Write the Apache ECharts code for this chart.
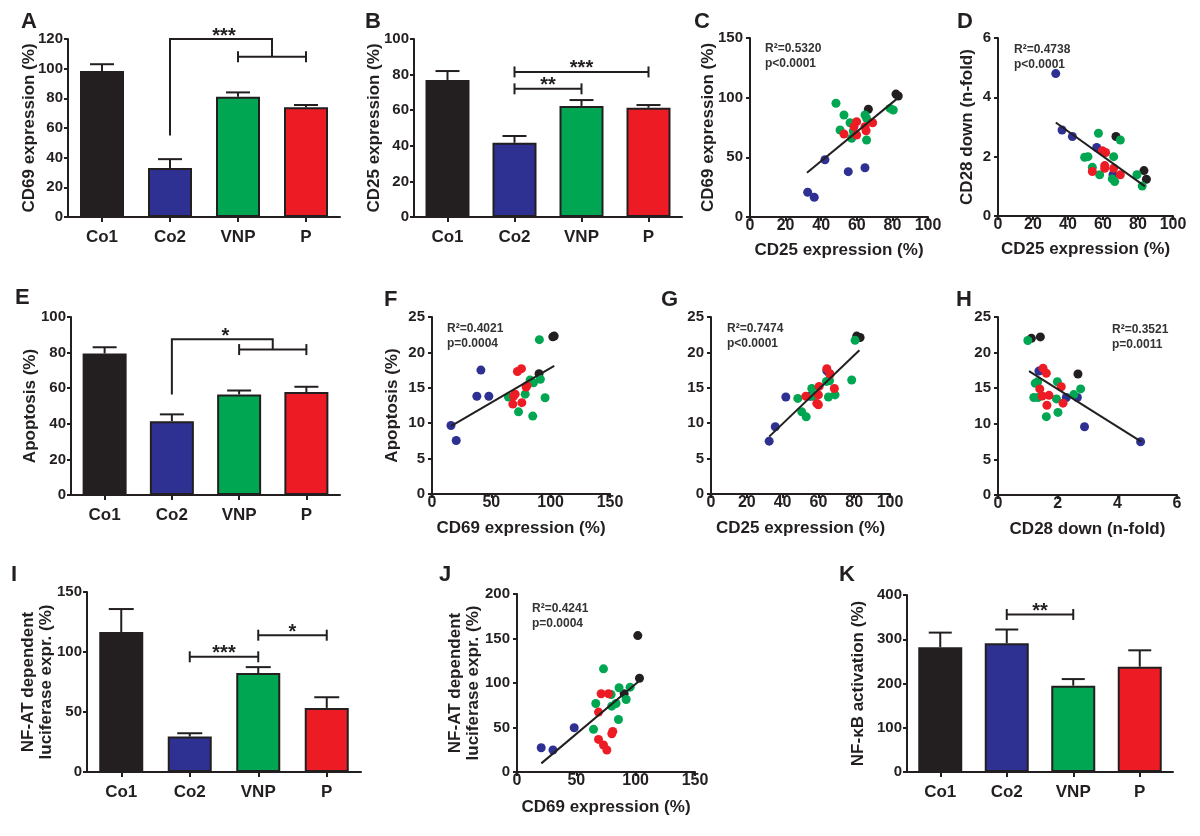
<!DOCTYPE html>
<html><head><meta charset="utf-8">
<script src="https://cdn.jsdelivr.net/npm/echarts@6/dist/echarts.min.js"></script>
<style>html,body{margin:0;padding:0;background:#fff}#c{width:1200px;height:836px}</style>
</head><body><div id="c"></div>
<script>
// ---------- DATA ----------
const groups = ['Co1', 'Co2', 'VNP', 'P'];
const groupColors = ['#231f20', '#2e3192', '#00a651', '#ed1c24'];

// bar panels: mean and mean+SEM (upper whisker)
const A_mean = [98.5, 33, 81, 74];
const A_err  = [103, 39, 84, 75.5];
const B_mean = [77, 41.7, 62.4, 61.4];
const B_err  = [82, 45.5, 65.7, 62.9];
const E_mean = [79.5, 41.5, 56.5, 57.8];
const E_err  = [83, 45.3, 58.7, 60.8];
const I_mean = [116.6, 29.5, 82.4, 53.4];
const I_err  = [135.8, 32.3, 87.4, 62.3];
const K_mean = [282, 291, 195, 238];
const K_err  = [315, 322, 210, 275];

// significance brackets (category indices, y in data units)
const A_group = [{from: 1, fromY: 55, topY: 120, to: [2, 3], toY: 108, label: '***'}];
const E_group = [{from: 1, fromY: 56.5, topY: 87.5, to: [2, 3], toY: 81.7, label: '*'}];
const B_sig = [{a: 1, b: 3, y: 81.5, label: '***'}, {a: 1, b: 2, y: 72, label: '**'}];
const I_sig = [{a: 1, b: 2, y: 96, label: '***'}, {a: 2, b: 3, y: 114, label: '*'}];
const K_sig = [{a: 1, b: 2, y: 356, label: '**'}];

// C: CD25 (x) vs CD69 (y)
const C_Co1 = [[66.5, 90.3], [82, 103], [83.3, 101.4]];
const C_Co2 = [[32.4, 20.7], [36.1, 16.5], [42.1, 48], [55.2, 38], [64.6, 41.3]];
const C_VNP = [[48.3, 95.3], [52.8, 85.5], [50.6, 72.9], [56.2, 79], [57.1, 66], [64.6, 85.5], [65.5, 82.7], [65.5, 64.5], [78.7, 91], [80.5, 89.7], [58, 72]];
const C_P   = [[59.9, 79.9], [58.4, 75.7], [52.8, 69.6], [59.9, 68.7], [64.6, 75.7], [65.2, 72.3], [68.9, 79]];
const C_fit = [[32, 37], [82.5, 99]];

// D: CD25 (x) vs CD28 down (y)
const D_Co1 = [[67.4, 2.68], [83.4, 1.53], [84.8, 1.24]];
const D_Co2 = [[33, 4.8], [36.6, 2.9], [42.5, 2.68], [56.4, 2.31], [65.7, 1.39]];
const D_VNP = [[57.4, 2.79], [69.9, 2.56], [66.1, 2.0], [49.5, 1.98], [51.4, 2.0], [53.9, 1.64], [58.1, 1.39], [65.3, 1.25], [66.7, 1.16], [79.4, 1.39], [82.4, 1.01]];
const D_P   = [[59.6, 2.2], [61.5, 2.14], [53.9, 1.5], [61, 1.7], [61, 1.61], [66.1, 1.61], [69.9, 1.39]];
const D_fit = [[33, 3.15], [84, 1.0]];

// F: CD69 (x) vs Apoptosis (y)
const F_Co1 = [[90.2, 17.0], [101.8, 22.2], [103, 22.3]];
const F_Co2 = [[16, 9.67], [20.4, 7.56], [37.8, 13.8], [41.2, 17.5], [47.9, 13.8]];
const F_VNP = [[64.4, 13.7], [72.9, 11.6], [78.5, 14.1], [82.7, 16.1], [84.9, 11.0], [85.5, 15.7], [90.5, 21.8], [91.3, 16.2], [95.3, 13.6]];
const F_P   = [[68.1, 12.7], [68.7, 13.8], [70.1, 14.1], [72, 17.3], [75.4, 17.7], [75.7, 12.9], [79.3, 15.1], [80, 15.3]];
const F_fit = [[16, 9.6], [103, 18.1]];

// G: CD25 (x) vs Apoptosis (y)
const G_Co1 = [[66.3, 17.0], [81.4, 22.3], [83.3, 22.1]];
const G_Co2 = [[32.5, 7.46], [35.9, 9.5], [41.8, 13.7], [55.4, 13.8], [64.7, 17.4]];
const G_VNP = [[48.5, 13.5], [50.7, 11.6], [53.2, 10.9], [56.3, 14.9], [56.9, 13.8], [64.5, 15.9], [66.2, 16], [65.6, 13.7], [69.3, 14], [78.6, 16.1], [80.5, 21.7]];
const G_P   = [[53, 13.8], [59.1, 12.8], [60, 12.6], [60, 14], [60.4, 15.2], [64.7, 17.7], [66.5, 16.9], [68.9, 14.9]];
const G_fit = [[32.5, 8.1], [82.9, 20.3]];

// H: CD28 down (x) vs Apoptosis (y)
const H_Co1 = [[1.12, 22], [1.42, 22.2], [2.68, 17.0]];
const H_Co2 = [[1.37, 17.4], [2.29, 13.7], [2.66, 13.7], [2.9, 9.58], [4.78, 7.48]];
const H_VNP = [[1.0, 21.7], [1.25, 15.7], [1.33, 15.9], [1.2, 13.7], [1.34, 13.7], [1.62, 11.0], [1.99, 15.9], [1.96, 13.5], [2.01, 11.6], [2.54, 14.1], [2.77, 14.9]];
const H_P   = [[1.51, 17.8], [1.62, 17.1], [1.4, 14.9], [1.48, 13.9], [1.71, 14.0], [1.64, 12.6], [2.12, 15.2], [2.18, 12.9]];
const H_fit = [[1.04, 17.4], [4.8, 7.5]];

// J: CD69 (x) vs NF-AT luciferase (y)
const J_Co1 = [[90.3, 87.9], [101.8, 153.3], [103.2, 105.4]];
const J_Co2 = [[20.4, 27.3], [30.3, 24.7], [48.2, 49.7]];
const J_VNP = [[64.5, 47.9], [66.4, 77], [72.9, 115.9], [79.3, 87.1], [79.8, 74], [83.5, 77], [86, 94.6], [85.5, 59], [92, 81.5], [95.3, 95.3]];
const J_P   = [[68.7, 67.3], [68.7, 36.6], [70.9, 87.9], [72.9, 30.3], [75.7, 24.7], [77.1, 87.9], [79.9, 43], [80.7, 45.6]];
const J_fit = [[20.5, 9.7], [103.7, 103.2]];

// ---------- STYLE / LAYOUT ----------
const FONT = '"Liberation Sans", Arial, sans-serif';
const INK = '#231f20';
const grids = [
  {left: 68, top: 39, width: 272, height: 178},   // A
  {left: 414, top: 39, width: 268, height: 178},  // B
  {left: 750, top: 38, width: 178, height: 179},  // C
  {left: 998, top: 38, width: 175, height: 178},  // D
  {left: 71, top: 317, width: 269, height: 178},  // E
  {left: 432, top: 317, width: 178, height: 177}, // F
  {left: 711, top: 317, width: 179, height: 177}, // G
  {left: 998, top: 317, width: 179, height: 178}, // H
  {left: 87, top: 592, width: 274, height: 180},  // I
  {left: 517, top: 594, width: 178, height: 178}, // J
  {left: 907, top: 595, width: 266, height: 177}  // K
];
const lineSt = {color: INK, width: 2};

function yAxis(gi, max, interval, name, gap, margin) {
  return {
    type: 'value', gridIndex: gi, min: 0, max: max, interval: interval,
    name: name, nameLocation: 'middle', nameGap: gap, nameMoveOverlap: false,
    nameTextStyle: {fontFamily: FONT, fontWeight: 'bold', fontSize: 17, color: INK, lineHeight: 18},
    axisLine: {show: true, lineStyle: lineSt},
    axisTick: {show: true, length: 4, lineStyle: lineSt},
    axisLabel: {fontFamily: FONT, fontWeight: 'bold', fontSize: 15, color: INK, margin: margin},
    splitLine: {show: false}
  };
}
function xCat(gi) {
  return {
    type: 'category', gridIndex: gi, data: groups,
    axisLine: {show: true, lineStyle: lineSt},
    axisTick: {show: true, alignWithLabel: true, length: 5, lineStyle: lineSt},
    axisLabel: {fontFamily: FONT, fontWeight: 'bold', fontSize: 17, color: INK, margin: 12},
    splitLine: {show: false}
  };
}
function xVal(gi, max, interval, name, gap) {
  return {
    type: 'value', gridIndex: gi, min: 0, max: max, interval: interval,
    name: name, nameLocation: 'middle', nameGap: gap, nameMoveOverlap: false,
    nameTextStyle: {fontFamily: FONT, fontWeight: 'bold', fontSize: 17, color: INK},
    axisLine: {show: true, onZero: false, lineStyle: lineSt},
    axisTick: {show: true, length: 4, lineStyle: lineSt},
    axisLabel: {fontFamily: FONT, fontWeight: 'bold', fontSize: 16, color: INK, margin: 1},
    splitLine: {show: false}
  };
}

function barSeries(gi, means, errs, capHalf) {
  return [
    {
      type: 'bar', xAxisIndex: gi, yAxisIndex: gi, barWidth: 44,
      data: means.map((v, i) => ({value: v, itemStyle: {color: groupColors[i]}})),
      itemStyle: {borderColor: INK, borderWidth: 2}, z: 2
    },
    {
      type: 'custom', xAxisIndex: gi, yAxisIndex: gi, z: 3,
      data: means.map((m, i) => [i, m, errs[i]]),
      encode: {x: 0, y: [1, 2]},
      renderItem: function (p, api) {
        const b = api.coord([api.value(0), api.value(1)]);
        const t = api.coord([api.value(0), api.value(2)]);
        return {type: 'group', children: [
          {type: 'line', shape: {x1: b[0], y1: b[1], x2: t[0], y2: t[1]}, style: {stroke: INK, lineWidth: 2}},
          {type: 'line', shape: {x1: t[0] - capHalf, y1: t[1], x2: t[0] + capHalf, y2: t[1]}, style: {stroke: INK, lineWidth: 2}}
        ]};
      }
    }
  ];
}
const STAR_FONT = 'bold 20px ' + FONT;
function starText(x, y, label) {
  return {type: 'text', style: {text: label, x: x, y: y - 3, textAlign: 'center', textVerticalAlign: 'middle', font: STAR_FONT, fill: INK}};
}
function sigSeries(gi, list) {
  return {
    type: 'custom', xAxisIndex: gi, yAxisIndex: gi, z: 4,
    data: list.map(b => [b.a, b.y]),
    renderItem: function (p, api) {
      const br = list[p.dataIndex];
      const pa = api.coord([br.a, br.y]);
      const pb = api.coord([br.b, br.y]);
      const h = 5.5, st = {stroke: INK, lineWidth: 2};
      return {type: 'group', children: [
        {type: 'line', shape: {x1: pa[0], y1: pa[1], x2: pb[0], y2: pb[1]}, style: st},
        {type: 'line', shape: {x1: pa[0], y1: pa[1] - h, x2: pa[0], y2: pa[1] + h}, style: st},
        {type: 'line', shape: {x1: pb[0], y1: pb[1] - h, x2: pb[0], y2: pb[1] + h}, style: st},
        starText((pa[0] + pb[0]) / 2, pa[1], br.label)
      ]};
    }
  };
}
function groupSigSeries(gi, list) {
  return {
    type: 'custom', xAxisIndex: gi, yAxisIndex: gi, z: 4,
    data: list.map(b => [b.from, b.topY]),
    renderItem: function (p, api) {
      const br = list[p.dataIndex];
      const s0 = api.coord([br.from, br.fromY]);
      const s1 = api.coord([br.from, br.topY]);
      const a = api.coord([br.to[0], br.toY]);
      const b = api.coord([br.to[1], br.toY]);
      const mx = (a[0] + b[0]) / 2;
      const h = 5.5, st = {stroke: INK, lineWidth: 2, fill: null};
      return {type: 'group', children: [
        {type: 'polyline', shape: {points: [[s0[0], s0[1]], [s1[0], s1[1]], [mx, s1[1]], [mx, a[1]]]}, style: st},
        {type: 'line', shape: {x1: a[0], y1: a[1], x2: b[0], y2: b[1]}, style: st},
        {type: 'line', shape: {x1: a[0], y1: a[1] - h, x2: a[0], y2: a[1] + h}, style: st},
        {type: 'line', shape: {x1: b[0], y1: b[1] - h, x2: b[0], y2: b[1] + h}, style: st},
        starText((s1[0] + mx) / 2 + 3, s1[1], br.label)
      ]};
    }
  };
}
function scatterSeries(gi, sets, fit) {
  const out = sets.map((d, k) => ({
    type: 'scatter', xAxisIndex: gi, yAxisIndex: gi, data: d, symbolSize: 9,
    itemStyle: {color: groupColors[k], opacity: 1}, z: 2
  }));
  out.push({
    type: 'line', xAxisIndex: gi, yAxisIndex: gi, data: fit, symbol: 'none',
    lineStyle: {color: INK, width: 2}, z: 3
  });
  return out;
}

const series = [].concat(
  barSeries(0, A_mean, A_err, 12), groupSigSeries(0, A_group),
  barSeries(1, B_mean, B_err, 12), sigSeries(1, B_sig),
  scatterSeries(2, [C_Co1, C_Co2, C_VNP, C_P], C_fit),
  scatterSeries(3, [D_Co1, D_Co2, D_VNP, D_P], D_fit),
  barSeries(4, E_mean, E_err, 12), groupSigSeries(4, E_group),
  scatterSeries(5, [F_Co1, F_Co2, F_VNP, F_P], F_fit),
  scatterSeries(6, [G_Co1, G_Co2, G_VNP, G_P], G_fit),
  scatterSeries(7, [H_Co1, H_Co2, H_VNP, H_P], H_fit),
  barSeries(8, I_mean, I_err, 12.5), sigSeries(8, I_sig),
  scatterSeries(9, [J_Co1, J_Co2, J_VNP, J_P], J_fit),
  barSeries(10, K_mean, K_err, 11.5), sigSeries(10, K_sig)
);

const panelLetters = [
  ['A', 21, 11], ['B', 365, 11], ['C', 694, 11], ['D', 957, 11],
  ['E', 15, 287], ['F', 384, 289], ['G', 661, 289], ['H', 956, 289],
  ['I', 11, 564], ['J', 439, 564], ['K', 839, 564]
];
const statTexts = [
  ['R²=0.5320\np<0.0001', 765, 41], ['R²=0.4738\np<0.0001', 1014, 42],
  ['R²=0.4021\np=0.0004', 447, 321], ['R²=0.7474\np<0.0001', 727, 321],
  ['R²=0.3521\np=0.0011', 1112, 322], ['R²=0.4241\np=0.0004', 532, 601]
];
const graphic = panelLetters.map(t => ({
  type: 'text', left: t[1], top: t[2],
  style: {text: t[0], font: 'bold 22px ' + FONT, fill: INK}
})).concat(statTexts.map(t => ({
  type: 'text', left: t[1], top: t[2],
  style: {text: t[0], font: 'bold 12px ' + FONT, fill: '#333', lineHeight: 15}
})));

const option = {
  animation: false,
  backgroundColor: '#fff',
  grid: grids,
  xAxis: [xCat(0), xCat(1), xVal(2, 100, 20, 'CD25 expression (%)', 25), xVal(3, 100, 20, 'CD25 expression (%)', 25),
          xCat(4), xVal(5, 150, 50, 'CD69 expression (%)', 26), xVal(6, 100, 20, 'CD25 expression (%)', 26),
          xVal(7, 6, 2, 'CD28 down (n-fold)', 26), xCat(8), xVal(9, 150, 50, 'CD69 expression (%)', 27), xCat(10)],
  yAxis: [yAxis(0, 120, 20, 'CD69 expression (%)', 30, 5), yAxis(1, 100, 20, 'CD25 expression (%)', 31, 5),
          yAxis(2, 150, 50, 'CD69 expression (%)', 33, 7), yAxis(3, 6, 2, 'CD28 down (n-fold)', 22, 7),
          yAxis(4, 100, 20, 'Apoptosis (%)', 32, 5), yAxis(5, 25, 5, 'Apoptosis (%)', 31, 7),
          yAxis(6, 25, 5, '', 0, 7), yAxis(7, 25, 5, '', 0, 7),
          yAxis(8, 150, 50, 'NF-AT dependent\nluciferase expr. (%)', 32, 5),
          yAxis(9, 200, 50, 'NF-AT dependent\nluciferase expr. (%)', 35, 7),
          yAxis(10, 400, 100, 'NF-κB activation (%)', 40, 5)],
  series: series,
  graphic: graphic
};
const chart = echarts.init(document.getElementById('c'), null, {renderer: 'canvas'});
chart.setOption(option);
</script>
</body></html>
